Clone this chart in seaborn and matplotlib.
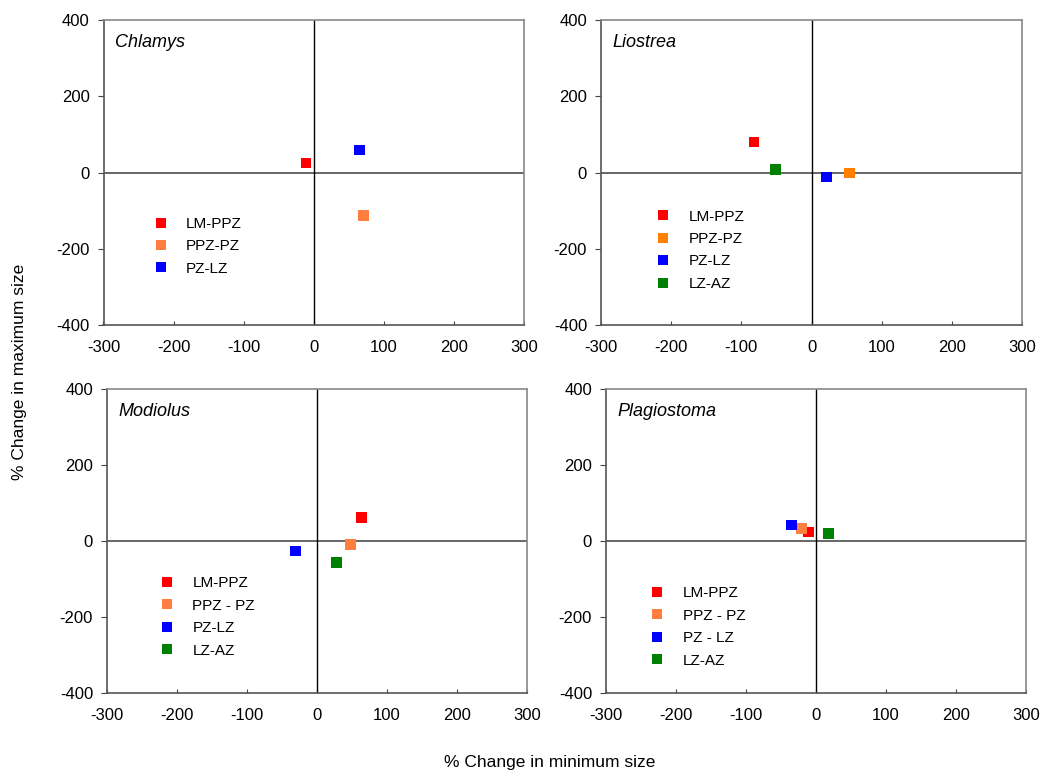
import matplotlib
matplotlib.use('Agg')
import matplotlib.pyplot as plt
import seaborn as sns
import pandas as pd

sns.set_style('white')
plt.rcParams['font.family'] = ['Liberation Sans', 'DejaVu Sans']
plt.rcParams['axes.unicode_minus'] = False
plt.rcParams['text.color'] = 'black'
plt.rcParams['xtick.color'] = 'black'
plt.rcParams['ytick.color'] = 'black'

# Data (% change in min size, % change in max size)
chlamys_labels = ['LM-PPZ', 'PPZ-PZ', 'PZ-LZ']
chlamys_min = [-11, 71, 65]
chlamys_max = [25, -112, 59]

liostrea_labels = ['LM-PPZ', 'PPZ-PZ', 'PZ-LZ', 'LZ-AZ']
liostrea_min = [-82, 54, 21, -51]
liostrea_max = [80, -1, -12, 7]

modiolus_labels = ['LM-PPZ', 'PPZ - PZ', 'PZ-LZ', 'LZ-AZ']
modiolus_min = [64, 48, -31, 28]
modiolus_max = [62, -9, -26, -56]

plagio_labels = ['LM-PPZ', 'PPZ - PZ', 'PZ - LZ', 'LZ-AZ']
plagio_min = [-11, -21, -35, 18]
plagio_max = [24, 33, 42, 19]

colors_coral = ['#FF0000', '#FF7F40', '#0000FF', '#008000']
colors_orange = ['#FF0000', '#FF8000', '#0000FF', '#008000']

panels = [
    ('Chlamys', chlamys_labels, chlamys_min, chlamys_max, colors_coral,
     [103.5, 20, 524, 325], (0.118, 0.258)),
    ('Liostrea', liostrea_labels, liostrea_min, liostrea_max, colors_orange,
     [601, 20, 1022, 325], (0.130, 0.245)),
    ('Modiolus', modiolus_labels, modiolus_min, modiolus_max, colors_coral,
     [107, 389, 527, 693], (0.125, 0.250)),
    ('Plagiostoma', plagio_labels, plagio_min, plagio_max, colors_coral,
     [606, 389, 1026, 693], (0.104, 0.217)),
]

W, H = 1043, 776
fig = plt.figure(figsize=(W / 100, H / 100), dpi=100)

for name, labels, xmin, ymax, cols, box, leg_xy in panels:
    l, t, r, b = box
    ax = fig.add_axes([l / W, 1 - b / H, (r - l) / W, (b - t) / H])
    df = pd.DataFrame({'min': xmin, 'max': ymax, 'zone': labels})
    pal = dict(zip(labels, cols))
    ax.axhline(0, color='#666666', lw=1.4, zorder=1)
    ax.axvline(0, color='black', lw=1.0, zorder=1)
    sns.scatterplot(data=df, x='min', y='max', hue='zone', hue_order=labels,
                    palette=pal, marker='s', s=60, linewidth=0, ax=ax, zorder=3)
    ax.set_xlim(-300, 300)
    ax.set_ylim(-400, 400)
    ax.set_xticks(range(-300, 301, 100))
    ax.set_yticks(range(-400, 401, 200))
    ax.set_xlabel('')
    ax.set_ylabel('')
    ax.tick_params(axis='x', direction='in', length=3, labelsize=12, pad=11,
                   color='#444444', labelcolor='black', bottom=True)
    ax.tick_params(axis='y', direction='out', length=4, labelsize=12, pad=6,
                   color='#444444', labelcolor='black', left=True)
    for side in ['left', 'bottom']:
        ax.spines[side].set_color('#555555')
        ax.spines[side].set_linewidth(1.2)
    for side in ['top', 'right']:
        ax.spines[side].set_color('#888888')
        ax.spines[side].set_linewidth(1.2)
    ax.text(0.027, 0.955, name, transform=ax.transAxes, fontsize=13,
            fontstyle='italic', va='top', ha='left', color='black')
    h, lab = ax.get_legend_handles_labels()
    for hh in h:
        hh.set_markersize(7.9)
    ax.legend(h, lab, loc='center left', bbox_to_anchor=leg_xy, frameon=False,
              fontsize=11, handlelength=1.0, handletextpad=1.16,
              labelspacing=0.55, borderpad=0, borderaxespad=0,
              labelcolor='black')

fig.text(20 / W, 1 - 372 / H, '% Change in maximum size', rotation=90,
         ha='center', va='center', fontsize=12.5, color='black')
fig.text(550 / W, 1 - 763 / H, '% Change in minimum size',
         ha='center', va='center', fontsize=12.5, color='black')

fig.savefig('out.png', dpi=100)
